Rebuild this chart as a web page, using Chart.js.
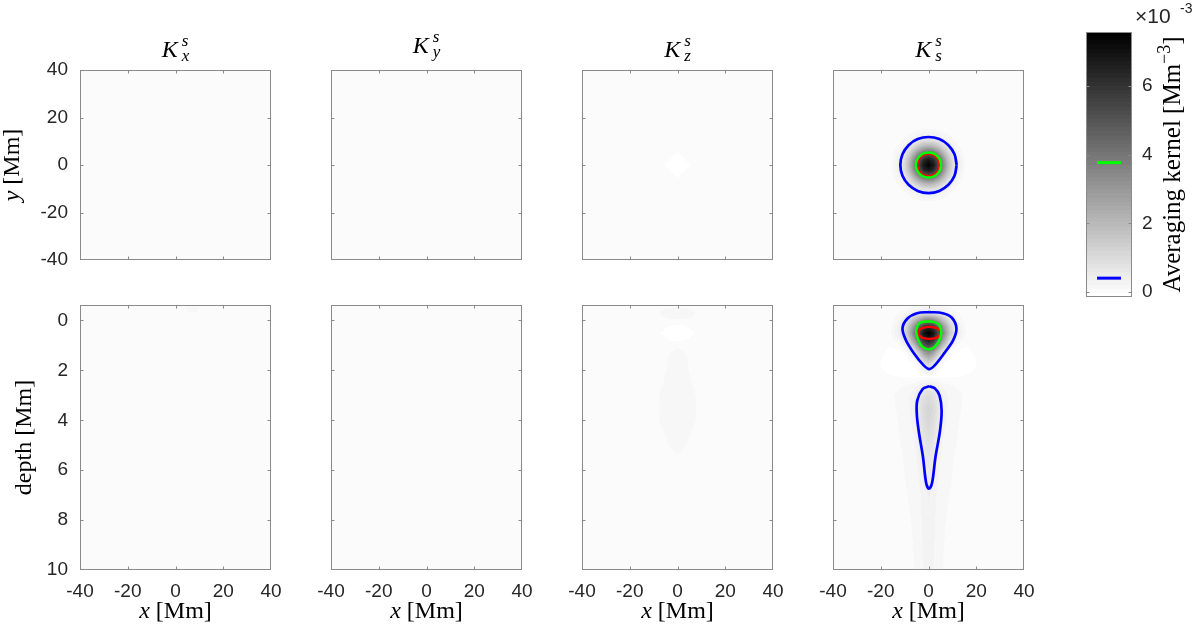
<!DOCTYPE html>
<html>
<head>
<meta charset="utf-8">
<title>Averaging kernels</title>
<script src="https://cdn.jsdelivr.net/npm/chart.js@4.4.1/dist/chart.umd.min.js"></script>
<style>
  html, body { margin: 0; background: #fff; }
  body { position: relative; width: 1200px; height: 633px; overflow: hidden; }
  canvas { position: absolute; }
</style>
</head>
<body>
<script>
// ticks
const xTicks = [-40, -20, 0, 20, 40];
const yTicks = [-40, -20, 0, 20, 40];
const depthTicks = [0, 2, 4, 6, 8, 10];
const cbarTicks = [0, 2, 4, 6];
const titleSubs = ['x', 'y', 'z', 's'];

// colour scale (units 1e-3 Mm^-3) and the two contour levels shown on the bar
const cMin = -0.15, cMax = 7.58;
const levelBlue = 0.4;
const levelGreen = 3.77;

// K_s^s, horizontal cut (rows = y, cols = x)
const ssTopX = [-16, -12, -10, -8, -6, -4, -2, 0, 2, 4, 6, 8, 10, 12, 16];
const ssTopY = [-16, -12, -10, -8, -6, -4, -2, 0, 2, 4, 6, 8, 10, 12, 16];
const ssTopZ = [
  [0, 0, 0, 0, 0, 0, 0, 0, 0, 0, 0, 0, 0, 0, 0],
  [0, 0.02, 0.06, 0.12, 0.20, 0.31, 0.39, 0.42, 0.39, 0.31, 0.20, 0.12, 0.06, 0.02, 0],
  [0, 0.06, 0.14, 0.28, 0.49, 0.74, 0.94, 1.01, 0.94, 0.74, 0.49, 0.28, 0.14, 0.06, 0],
  [0, 0.12, 0.28, 0.58, 1.01, 1.51, 1.92, 2.09, 1.92, 1.51, 1.01, 0.58, 0.28, 0.12, 0],
  [0, 0.20, 0.49, 1.01, 1.78, 2.65, 3.37, 3.65, 3.37, 2.65, 1.78, 1.01, 0.49, 0.20, 0],
  [0, 0.31, 0.74, 1.51, 2.65, 3.96, 5.03, 5.45, 5.03, 3.96, 2.65, 1.51, 0.74, 0.31, 0],
  [0, 0.39, 0.94, 1.92, 3.37, 5.03, 6.39, 6.92, 6.39, 5.03, 3.37, 1.92, 0.94, 0.39, 0],
  [0, 0.42, 1.01, 2.09, 3.65, 5.45, 6.92, 7.50, 6.92, 5.45, 3.65, 2.09, 1.01, 0.42, 0],
  [0, 0.39, 0.94, 1.92, 3.37, 5.03, 6.39, 6.92, 6.39, 5.03, 3.37, 1.92, 0.94, 0.39, 0],
  [0, 0.31, 0.74, 1.51, 2.65, 3.96, 5.03, 5.45, 5.03, 3.96, 2.65, 1.51, 0.74, 0.31, 0],
  [0, 0.20, 0.49, 1.01, 1.78, 2.65, 3.37, 3.65, 3.37, 2.65, 1.78, 1.01, 0.49, 0.20, 0],
  [0, 0.12, 0.28, 0.58, 1.01, 1.51, 1.92, 2.09, 1.92, 1.51, 1.01, 0.58, 0.28, 0.12, 0],
  [0, 0.06, 0.14, 0.28, 0.49, 0.74, 0.94, 1.01, 0.94, 0.74, 0.49, 0.28, 0.14, 0.06, 0],
  [0, 0.02, 0.06, 0.12, 0.20, 0.31, 0.39, 0.42, 0.39, 0.31, 0.20, 0.12, 0.06, 0.02, 0],
  [0, 0, 0, 0, 0, 0, 0, 0, 0, 0, 0, 0, 0, 0, 0]
];

// K_s^s, vertical cut (rows = depth, cols = x)
const ssBotX = [-24, -20, -16, -12, -9, -6, -4, -2, 0, 2, 4, 6, 9, 12, 16, 20, 24];
const ssBotD = [-0.62, -0.3, 0, 0.25, 0.5, 0.75, 1, 1.25, 1.5, 1.75, 2, 2.25, 2.6, 3, 3.5, 4, 5, 6, 7, 8, 10];
const ssBotZ = [
  [0, 0, 0, 0, 0.01, 0.03, 0.04, 0.05, 0.05, 0.05, 0.04, 0.03, 0.01, 0, 0, 0, 0],
  [0, 0, 0.02, 0.09, 0.21, 0.40, 0.52, 0.62, 0.65, 0.62, 0.52, 0.40, 0.21, 0.09, 0.02, 0, 0],
  [0, 0, 0.02, 0.21, 0.75, 1.85, 2.76, 3.51, 3.80, 3.51, 2.76, 1.85, 0.75, 0.21, 0.02, 0, 0],
  [0, 0, 0.04, 0.35, 1.25, 3.07, 4.57, 5.81, 6.30, 5.81, 4.57, 3.07, 1.25, 0.35, 0.04, 0, 0],
  [0, 0, 0.05, 0.43, 1.50, 3.70, 5.52, 7.01, 7.60, 7.01, 5.52, 3.70, 1.50, 0.43, 0.05, 0, 0],
  [0, 0, 0.01, 0.23, 1.01, 2.95, 4.73, 6.28, 6.90, 6.28, 4.73, 2.95, 1.01, 0.23, 0.01, 0, 0],
  [0, 0, -0.02, 0.06, 0.44, 1.79, 3.34, 4.85, 5.50, 4.85, 3.34, 1.79, 0.44, 0.06, -0.02, 0, 0],
  [0, 0, -0.06, -0.08, 0.05, 0.67, 1.68, 2.91, 3.50, 2.91, 1.68, 0.67, 0.05, -0.08, -0.06, 0, 0],
  [0, -0.02, -0.10, -0.12, -0.05, 0.19, 0.73, 1.67, 2.20, 1.67, 0.73, 0.19, -0.05, -0.12, -0.10, -0.02, 0],
  [0, -0.03, -0.11, -0.13, -0.12, -0.05, 0.12, 0.63, 1.10, 0.63, 0.12, -0.05, -0.12, -0.13, -0.11, -0.03, 0],
  [0, -0.01, -0.07, -0.12, -0.12, -0.08, 0.02, 0.25, 0.42, 0.25, 0.02, -0.08, -0.12, -0.12, -0.07, -0.01, 0],
  [0, 0, -0.01, -0.03, -0.04, -0.05, -0.06, -0.05, -0.04, -0.05, -0.06, -0.05, -0.04, -0.03, -0.01, 0, 0],
  [0, 0.02, 0.05, 0.08, 0.10, 0.15, 0.25, 0.36, 0.42, 0.36, 0.25, 0.15, 0.10, 0.08, 0.05, 0.02, 0],
  [0, 0.03, 0.07, 0.12, 0.16, 0.32, 0.55, 0.83, 0.95, 0.83, 0.55, 0.32, 0.16, 0.12, 0.07, 0.03, 0],
  [0, 0.03, 0.07, 0.11, 0.14, 0.35, 0.67, 1.03, 1.20, 1.03, 0.67, 0.35, 0.14, 0.11, 0.07, 0.03, 0],
  [0, 0.02, 0.06, 0.10, 0.12, 0.29, 0.58, 0.93, 1.10, 0.93, 0.58, 0.29, 0.12, 0.10, 0.06, 0.02, 0],
  [0, 0.02, 0.05, 0.09, 0.10, 0.17, 0.35, 0.64, 0.80, 0.64, 0.35, 0.17, 0.10, 0.09, 0.05, 0.02, 0],
  [0, 0.02, 0.05, 0.08, 0.10, 0.13, 0.23, 0.43, 0.55, 0.43, 0.23, 0.13, 0.10, 0.08, 0.05, 0.02, 0],
  [0, 0.02, 0.04, 0.07, 0.09, 0.11, 0.17, 0.28, 0.35, 0.28, 0.17, 0.11, 0.09, 0.07, 0.04, 0.02, 0],
  [0, 0.01, 0.03, 0.06, 0.08, 0.10, 0.16, 0.25, 0.30, 0.25, 0.16, 0.10, 0.08, 0.06, 0.03, 0.01, 0],
  [0, 0.01, 0.03, 0.05, 0.07, 0.09, 0.14, 0.21, 0.25, 0.21, 0.14, 0.09, 0.07, 0.05, 0.03, 0.01, 0]
];

// K_z^s, small negative spot at the centre of the horizontal cut
const szTopX = [-6, -4, -2, 0, 2, 4, 6];
const szTopY = [-6, -4, -2, 0, 2, 4, 6];
const szTopZ = [
  [0, 0, 0, 0, 0, 0, 0],
  [0, 0, 0, -0.08, 0, 0, 0],
  [0, 0, -0.08, -0.15, -0.08, 0, 0],
  [0, -0.08, -0.15, -0.15, -0.15, -0.08, 0],
  [0, 0, -0.08, -0.15, -0.08, 0, 0],
  [0, 0, 0, -0.08, 0, 0, 0],
  [0, 0, 0, 0, 0, 0, 0]
];

// K_z^s, vertical cut
const szBotX = [-14, -10, -6, -3, 0, 3, 6, 10, 14];
const szBotD = [-0.62, -0.3, 0, 0.25, 0.5, 0.75, 1, 1.5, 2, 3, 4, 5, 6, 7];
const szBotZ = [
  [0, 0.02, 0.05, 0.06, 0.06, 0.06, 0.05, 0.02, 0],
  [0, 0.05, 0.12, 0.15, 0.15, 0.15, 0.12, 0.05, 0],
  [0, 0.03, 0.06, 0.08, 0.08, 0.08, 0.06, 0.03, 0],
  [0, 0, 0, -0.05, -0.08, -0.05, 0, 0, 0],
  [0, 0, -0.04, -0.15, -0.18, -0.15, -0.04, 0, 0],
  [0, 0, 0, -0.05, -0.08, -0.05, 0, 0, 0],
  [0, 0, 0.02, 0.06, 0.08, 0.06, 0.02, 0, 0],
  [0, 0, 0.04, 0.12, 0.14, 0.12, 0.04, 0, 0],
  [0, 0.02, 0.06, 0.13, 0.15, 0.13, 0.06, 0.02, 0],
  [0, 0.05, 0.12, 0.18, 0.20, 0.18, 0.12, 0.05, 0],
  [0, 0.05, 0.12, 0.18, 0.20, 0.18, 0.12, 0.05, 0],
  [0, 0.02, 0.05, 0.10, 0.12, 0.10, 0.05, 0.02, 0],
  [0, 0, 0.01, 0.03, 0.04, 0.03, 0.01, 0, 0],
  [0, 0, 0, 0, 0, 0, 0, 0, 0]
];

// K_x^s, faint patch near the surface
const sxBotX = [2, 5, 7, 9, 12];
const sxBotD = [-0.62, -0.45, -0.33, -0.15];
const sxBotZ = [
  [0, 0.05, 0.08, 0.05, 0],
  [0, 0.12, 0.15, 0.12, 0],
  [0, 0.08, 0.10, 0.08, 0],
  [0, 0, 0, 0, 0]
];

// contours of K_s^s, [x, y] in Mm
const ssTopBlue = [[11.8, 0], [10.9, 4.52], [8.34, 8.34], [4.52, 10.9], [0, 11.8], [-4.52, 10.9], [-8.34, 8.34], [-10.9, 4.52], [-11.8, 0], [-10.9, -4.52], [-8.34, -8.34], [-4.52, -10.9], [0, -11.8], [4.52, -10.9], [8.34, -8.34], [10.9, -4.52], [11.8, 0]];
const ssTopGreen = [[5.3, 0], [4.9, 2.03], [3.75, 3.75], [2.03, 4.9], [0, 5.3], [-2.03, 4.9], [-3.75, 3.75], [-4.9, 2.03], [-5.3, 0], [-4.9, -2.03], [-3.75, -3.75], [-2.03, -4.9], [0, -5.3], [2.03, -4.9], [3.75, -3.75], [4.9, -2.03], [5.3, 0]];
const ssTopRed = [[4.5, 0], [4.16, 1.72], [3.18, 3.18], [1.72, 4.16], [0, 4.5], [-1.72, 4.16], [-3.18, 3.18], [-4.16, 1.72], [-4.5, 0], [-4.16, -1.72], [-3.18, -3.18], [-1.72, -4.16], [0, -4.5], [1.72, -4.16], [3.18, -3.18], [4.16, -1.72], [4.5, 0]];
// contours of K_s^s, [x, depth]
const ssBotBlueA = [[0.35, -0.34], [6.0, -0.29], [9.8, -0.11], [11.7, 0.31], [10.4, 0.78], [6.7, 1.3], [2.6, 1.8], [0.35, 1.95], [-2.0, 1.8], [-6.2, 1.3], [-9.5, 0.78], [-10.9, 0.31], [-8.8, -0.08], [-4.8, -0.29], [0.35, -0.34]];
const ssBotBlueB = [[0.3, 2.64], [2.6, 2.72], [4.6, 3.0], [5.5, 3.62], [4.8, 4.43], [2.9, 5.48], [1.5, 6.5], [0.2, 6.74], [-1.0, 6.5], [-2.3, 5.48], [-4.1, 4.43], [-4.9, 3.75], [-4.7, 3.2], [-2.4, 2.74], [0.3, 2.64]];
const ssBotGreen = [[0.63, 0.03], [4.0, 0.13], [5.3, 0.38], [4.9, 0.71], [2.6, 1.06], [-0.07, 1.16], [-2.7, 1.04], [-4.3, 0.78], [-5.2, 0.45], [-4.8, 0.26], [-3.5, 0.09], [0.63, 0.03]];
const ssBotRed = [[5.1, 0.5], [4.5, 0.62], [2.75, 0.71], [0.35, 0.74], [-2.05, 0.71], [-3.8, 0.62], [-4.4, 0.5], [-3.8, 0.38], [-2.05, 0.29], [0.35, 0.26], [2.75, 0.29], [4.5, 0.38], [5.1, 0.5]];

// ---- layout (page pixels) ----
const colLeft = [80, 331, 582, 833];
const PW = 191;
const rowTop = [70, 305];
const rowH = [190, 265];
const axisColor = '#8a8a8a';
const nLevels = 64;

Chart.defaults.font.family = '"Liberation Sans", Arial, sans-serif';
Chart.defaults.font.size = 19;
Chart.defaults.color = '#262626';

function grayOf(v) {
  let k = Math.floor((v - cMin) / (cMax - cMin) * nLevels);
  k = Math.max(0, Math.min(nLevels - 1, k));
  return Math.round(255 * (1 - k / (nLevels - 1)));
}

function sample(g, x, y) {
  const xs = g.x, ys = g.y, z = g.z;
  if (x < xs[0] || x > xs[xs.length - 1] || y < ys[0] || y > ys[ys.length - 1]) return 0;
  let i = 0; while (i < xs.length - 2 && x > xs[i + 1]) i++;
  let j = 0; while (j < ys.length - 2 && y > ys[j + 1]) j++;
  const tx = (x - xs[i]) / (xs[i + 1] - xs[i]);
  const ty = (y - ys[j]) / (ys[j + 1] - ys[j]);
  const a = z[j][i] * (1 - tx) + z[j][i + 1] * tx;
  const b = z[j + 1][i] * (1 - tx) + z[j + 1][i + 1] * tx;
  return a * (1 - ty) + b * ty;
}

function serif(p, size) {
  const s = p[2] ? Math.round(size * 0.7) : size;
  return (p[1] ? 'italic ' : '') + s + 'px "Liberation Serif", "DejaVu Serif", serif';
}

// parts: [text, italic, superscript]
function drawParts(ctx, parts, cx, base, size) {
  let total = 0;
  const ws = parts.map(p => { ctx.font = serif(p, size); const w = ctx.measureText(p[0]).width; total += w; return w; });
  let x = cx - total / 2;
  parts.forEach((p, i) => {
    ctx.font = serif(p, size);
    ctx.fillText(p[0], x, base - (p[2] ? size * 0.4 : 0));
    x += ws[i];
  });
}

function drawRotated(ctx, parts, X, Yc, size) {
  ctx.save();
  ctx.translate(X, Yc);
  ctx.rotate(-Math.PI / 2);
  drawParts(ctx, parts, 0, 0, size);
  ctx.restore();
}

function drawTitle(ctx, cx, top, sub) {
  const big = 'italic 24px "Liberation Serif", serif';
  const small = 'italic 17px "Liberation Serif", serif';
  ctx.font = big;
  const wK = ctx.measureText('K').width;
  ctx.font = small;
  const wS = Math.max(ctx.measureText('s').width, ctx.measureText(sub).width);
  const x0 = cx - (wK + 4 + wS) / 2;
  const up = sub === 'y' ? 4 : 0;
  ctx.fillStyle = '#000';
  ctx.font = big; ctx.fillText('K', x0, top - 13 - up);
  ctx.font = small;
  ctx.fillText('s', x0 + wK + 4, top - 24 - up);
  ctx.fillText(sub, x0 + wK + 4, top - 9 - up);
}

function addCanvas(left, top, w, h) {
  const c = document.createElement('canvas');
  c.width = w; c.height = h;
  c.style.left = left + 'px'; c.style.top = top + 'px';
  c.style.width = w + 'px'; c.style.height = h + 'px';
  document.body.appendChild(c);
  return c;
}

function boxAndTicks(ctx, a, x, y, len) {
  const l = Math.round(a.left) + 0.5, r = Math.round(a.right) - 0.5;
  const t = Math.round(a.top) + 0.5, b = Math.round(a.bottom) - 0.5;
  ctx.strokeStyle = axisColor;
  ctx.lineWidth = 1;
  ctx.strokeRect(l, t, r - l, b - t);
  ctx.beginPath();
  if (x) x.ticks.forEach(tk => {
    const px = Math.round(x.getPixelForValue(tk.value)) + 0.5;
    if (px < l + 2 || px > r - 2) return;
    ctx.moveTo(px, b); ctx.lineTo(px, b - len);
    ctx.moveTo(px, t); ctx.lineTo(px, t + len);
  });
  y.ticks.forEach(tk => {
    const py = Math.round(y.getPixelForValue(tk.value)) + 0.5;
    if (py < t + 2 || py > b - 2) return;
    ctx.moveTo(l, py); ctx.lineTo(l + len, py);
    ctx.moveTo(r, py); ctx.lineTo(r - len, py);
  });
  ctx.stroke();
}

function makePanel(col, row, spec) {
  const L = colLeft[col], T = rowTop[row], H = rowH[row];
  const cv = addCanvas(L - 80, T - 45, 80 + PW + 25, 45 + H + 70);
  const datasets = (spec.lines || []).map(l => ({
    data: l.pts.map(p => ({ x: p[0], y: p[1] })),
    showLine: true, borderColor: l.color, borderWidth: l.width,
    pointRadius: 0, tension: 0.35, fill: false
  }));
  const yOpts = row === 0
    ? { min: -40, max: 40, list: yTicks, reverse: false }
    : { min: -0.62, max: 10, list: depthTicks, reverse: true };

  new Chart(cv, {
    type: 'scatter',
    data: { datasets },
    options: {
      responsive: false, animation: false, devicePixelRatio: 1, events: [],
      layout: { autoPadding: false, padding: { left: 0, top: 45, right: 25, bottom: 0 } },
      plugins: { legend: { display: false }, tooltip: { enabled: false } },
      scales: {
        x: {
          type: 'linear', min: -40, max: 40,
          afterBuildTicks: s => { s.ticks = xTicks.map(v => ({ value: v })); },
          afterFit: s => { s.height = 70; s.paddingLeft = 0; s.paddingRight = 0; },
          grid: { display: false, drawTicks: false }, border: { display: false },
          ticks: { display: row === 1, padding: 10, maxRotation: 0, autoSkip: false }
        },
        y: {
          type: 'linear', min: yOpts.min, max: yOpts.max, reverse: yOpts.reverse,
          afterBuildTicks: s => { s.ticks = yOpts.list.map(v => ({ value: v })); },
          afterFit: s => { s.width = 80; s.paddingTop = 0; s.paddingBottom = 0; },
          grid: { display: false, drawTicks: false }, border: { display: false },
          ticks: { display: col === 0, padding: 12, autoSkip: false }
        }
      }
    },
    plugins: [{
      id: 'panel' + col + row,
      beforeDatasetsDraw(chart) {
        const { ctx, chartArea: a, scales: { x, y } } = chart;
        const w = Math.round(a.right - a.left), h = Math.round(a.bottom - a.top);
        const off = document.createElement('canvas');
        off.width = w; off.height = h;
        const octx = off.getContext('2d');
        const img = octx.createImageData(w, h);
        const xv = [], yv = [];
        for (let i = 0; i < w; i++) xv.push(x.getValueForPixel(a.left + i + 0.5));
        for (let j = 0; j < h; j++) yv.push(y.getValueForPixel(a.top + j + 0.5));
        for (let j = 0; j < h; j++) {
          for (let i = 0; i < w; i++) {
            const v = spec.grid ? sample(spec.grid, xv[i], yv[j]) : 0;
            const g = grayOf(v), k = (j * w + i) * 4;
            img.data[k] = g; img.data[k + 1] = g; img.data[k + 2] = g; img.data[k + 3] = 255;
          }
        }
        octx.putImageData(img, 0, 0);
        ctx.drawImage(off, Math.round(a.left), Math.round(a.top));
      },
      afterDatasetsDraw(chart) {
        const { ctx, chartArea: a, scales: { x, y } } = chart;
        ctx.save();
        boxAndTicks(ctx, a, x, y, 3);
        ctx.fillStyle = '#000';
        ctx.textAlign = 'left';
        ctx.textBaseline = 'alphabetic';
        const cx = (a.left + a.right) / 2;
        if (row === 0) drawTitle(ctx, cx, a.top, titleSubs[col]);
        if (row === 1) drawParts(ctx, [['x', true], [' [Mm]', false]], cx, a.bottom + 48, 24);
        if (col === 0) {
          const yc = (a.top + a.bottom) / 2;
          if (row === 0) drawRotated(ctx, [['y', true], [' [Mm]', false]], a.left - 61, yc, 24);
          else drawRotated(ctx, [['depth [Mm]', false]], a.left - 49, yc, 24);
        }
        ctx.restore();
      }
    }]
  });
}

const blue = '#0000ff', green = '#00ff00', red = '#ff0000';

makePanel(0, 0, {});
makePanel(1, 0, {});
makePanel(2, 0, { grid: { x: szTopX, y: szTopY, z: szTopZ } });
makePanel(3, 0, {
  grid: { x: ssTopX, y: ssTopY, z: ssTopZ },
  lines: [
    { pts: ssTopBlue, color: blue, width: 2.7 },
    { pts: ssTopGreen, color: green, width: 2.5 },
    { pts: ssTopRed, color: red, width: 1.4 }
  ]
});
makePanel(0, 1, { grid: { x: sxBotX, y: sxBotD, z: sxBotZ } });
makePanel(1, 1, {});
makePanel(2, 1, { grid: { x: szBotX, y: szBotD, z: szBotZ } });
makePanel(3, 1, {
  grid: { x: ssBotX, y: ssBotD, z: ssBotZ },
  lines: [
    { pts: ssBotBlueA, color: blue, width: 2.7 },
    { pts: ssBotBlueB, color: blue, width: 2.7 },
    { pts: ssBotGreen, color: green, width: 2.5 },
    { pts: ssBotRed, color: red, width: 2.3 }
  ]
});

// ---- colour bar ----
const cbCanvas = addCanvas(1060, 0, 140, 320);
new Chart(cbCanvas, {
  type: 'scatter',
  data: {
    datasets: [
      { data: [{ x: 0.24, y: levelGreen }, { x: 0.76, y: levelGreen }], showLine: true, borderColor: green, borderWidth: 3, pointRadius: 0 },
      { data: [{ x: 0.24, y: levelBlue }, { x: 0.76, y: levelBlue }], showLine: true, borderColor: blue, borderWidth: 3, pointRadius: 0 }
    ]
  },
  options: {
    responsive: false, animation: false, devicePixelRatio: 1, events: [],
    layout: { autoPadding: false, padding: { left: 26, top: 32, right: 0, bottom: 23 } },
    plugins: { legend: { display: false }, tooltip: { enabled: false } },
    scales: {
      x: { type: 'linear', min: 0, max: 1, display: false },
      y: {
        type: 'linear', min: cMin, max: cMax, position: 'right',
        afterBuildTicks: s => { s.ticks = cbarTicks.map(v => ({ value: v })); },
        afterFit: s => { s.width = 68; s.paddingTop = 0; s.paddingBottom = 0; },
        grid: { display: false, drawTicks: false }, border: { display: false },
        ticks: { padding: 10, autoSkip: false }
      }
    }
  },
  plugins: [{
    id: 'cbar',
    beforeDatasetsDraw(chart) {
      const { ctx, chartArea: a, scales: { y } } = chart;
      const step = (cMax - cMin) / nLevels;
      for (let k = 0; k < nLevels; k++) {
        const y0 = Math.round(y.getPixelForValue(cMin + k * step));
        const y1 = Math.round(y.getPixelForValue(cMin + (k + 1) * step));
        const g = Math.round(255 * (1 - k / (nLevels - 1)));
        ctx.fillStyle = 'rgb(' + g + ',' + g + ',' + g + ')';
        ctx.fillRect(a.left, y1, a.right - a.left, y0 - y1);
      }
    },
    afterDatasetsDraw(chart) {
      const { ctx, chartArea: a, scales: { y } } = chart;
      ctx.save();
      boxAndTicks(ctx, a, null, y, 3);
      ctx.fillStyle = '#262626';
      ctx.textAlign = 'left';
      ctx.textBaseline = 'alphabetic';
      ctx.font = '21px "Liberation Sans", Arial, sans-serif';
      ctx.fillText('\u00d710', a.right + 3, 23);
      ctx.font = '14px "Liberation Sans", Arial, sans-serif';
      ctx.fillText('-3', a.right + 48, 13);
      ctx.fillStyle = '#000';
      drawRotated(ctx, [['Averaging kernel [Mm', false], ['\u22123', false, true], [']', false]], a.right + 48, (a.top + a.bottom) / 2, 25);
      ctx.restore();
    }
  }]
});
</script>
</body>
</html>
